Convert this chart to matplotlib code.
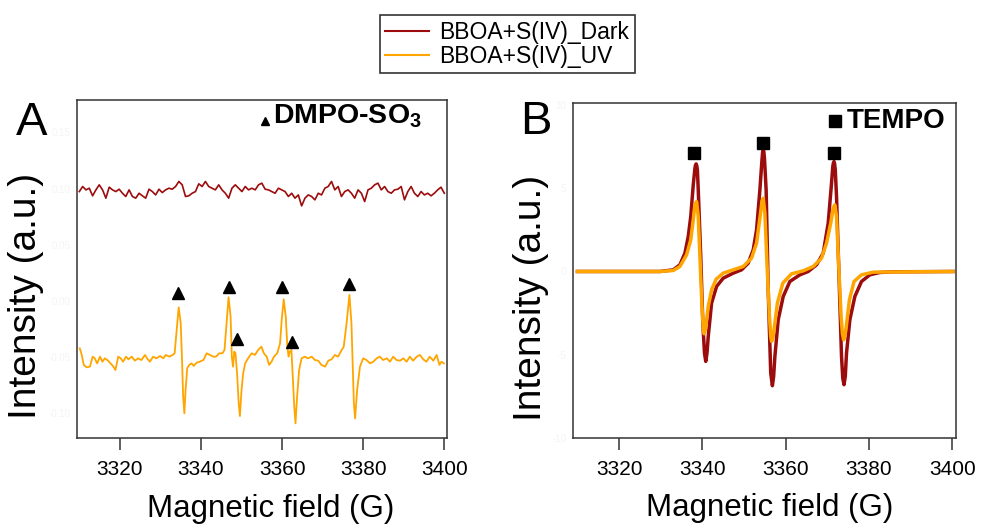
import numpy as np
import matplotlib
matplotlib.use('Agg')
import matplotlib.pyplot as plt
from matplotlib.lines import Line2D

plt.rcParams['font.family'] = ['Liberation Sans', 'DejaVu Sans']
plt.rcParams['mathtext.fontset'] = 'custom'
plt.rcParams['mathtext.rm'] = 'Liberation Sans'
plt.rcParams['mathtext.bf'] = 'Liberation Sans:bold'

DARK = '#9c0c0c'
UV = '#ffa500'
labels = ['BBOA+S(IV)_Dark', 'BBOA+S(IV)_UV']
xticks = [3320, 3340, 3360, 3380, 3400]

# ---- A: DMPO spin trap (dark trace offset +0.1, UV trace offset -0.05)
dark_a = [0.0973, 0.1018, 0.0988, 0.1003, 0.0935, 0.0988, 0.1033, 0.0988, 0.0914, 0.1012,
          0.0988, 0.0973, 0.0994, 0.0958, 0.0929, 0.0988, 0.0929, 0.0914, 0.0958, 0.0935,
          0.0914, 0.0994, 0.0973, 0.0943, 0.0994, 0.0964, 0.0988, 0.1003, 0.0994, 0.1018,
          0.1063, 0.1033, 0.0929, 0.0935, 0.0958, 0.0973, 0.1042, 0.1018, 0.1063, 0.1018,
          0.1003, 0.0988, 0.1033, 0.0988, 0.0958, 0.0914, 0.1003, 0.1033, 0.1003, 0.0973,
          0.1018, 0.0988, 0.1003, 0.0988, 0.1033, 0.1048, 0.0994, 0.0988, 0.0973, 0.0958,
          0.1003, 0.0988, 0.0973, 0.0929, 0.0958, 0.0914, 0.0943, 0.0845, 0.0914, 0.0943,
          0.0929, 0.0899, 0.0958, 0.0943, 0.1003, 0.1018, 0.1063, 0.0988, 0.1018, 0.0929,
          0.0973, 0.0988, 0.0958, 0.0914, 0.0988, 0.0958, 0.0884, 0.0988, 0.1003, 0.1033,
          0.1048, 0.0988, 0.1018, 0.0973, 0.0958, 0.0988, 0.0994, 0.1018, 0.0899, 0.0973,
          0.1018, 0.0958, 0.0929, 0.0973, 0.0943, 0.0958, 0.0935, 0.0958, 0.0988, 0.1012,
          0.0958]
field_dark_a = np.linspace(3310, 3400, len(dark_a))

field_uv_a = [3310.1, 3310.5, 3311.1, 3311.8, 3312.6, 3313.3, 3313.8, 3314.4, 3315.1, 3315.7,
              3316.3, 3317.1, 3317.7, 3318.4, 3318.9, 3319.6, 3320.2, 3320.8, 3321.5, 3322.1,
              3322.9, 3323.7, 3324.5, 3325.3, 3326.2, 3326.7, 3327.4, 3328.2, 3329.0, 3329.9,
              3330.7, 3331.3, 3332.2, 3333.0, 3333.5, 3334.0, 3334.5, 3335.0, 3335.3, 3335.6,
              3335.9, 3336.2, 3336.6, 3337.1, 3337.7, 3338.2, 3338.9, 3339.7, 3340.6, 3341.4,
              3342.2, 3343.0, 3343.7, 3344.5, 3345.3, 3345.8, 3346.3, 3346.8, 3347.3, 3347.6,
              3347.9, 3348.2, 3348.5, 3348.9, 3349.3, 3349.6, 3350.0, 3350.4, 3350.9, 3351.6,
              3352.5, 3353.3, 3354.1, 3354.9, 3355.5, 3356.2, 3356.8, 3357.4, 3358.0, 3358.8,
              3359.5, 3359.9, 3360.4, 3360.9, 3361.3, 3361.6, 3361.9, 3362.3, 3362.6, 3363.0,
              3363.3, 3363.7, 3364.2, 3364.8, 3365.6, 3366.4, 3367.3, 3368.1, 3368.9, 3369.7,
              3370.6, 3371.4, 3372.2, 3373.0, 3373.8, 3374.7, 3375.2, 3375.9, 3376.6, 3377.1,
              3377.4, 3377.7, 3378.0, 3378.5, 3379.2, 3380.0, 3380.8, 3381.7, 3382.5, 3383.3,
              3384.1, 3384.9, 3385.8, 3386.6, 3387.4, 3388.2, 3389.1, 3389.9, 3390.7, 3391.5,
              3392.3, 3393.2, 3394.0, 3394.8, 3395.6, 3396.4, 3397.3, 3398.1, 3398.8, 3399.3,
              3399.9]
uv_a = [-0.0426, -0.0470, -0.0574, -0.0595, -0.0589, -0.0500, -0.0515, -0.0560, -0.0500, -0.0545,
        -0.0515, -0.0536, -0.0560, -0.0589, -0.0619, -0.0500, -0.0515, -0.0545, -0.0500, -0.0524,
        -0.0500, -0.0536, -0.0515, -0.0530, -0.0485, -0.0515, -0.0545, -0.0500, -0.0515, -0.0494,
        -0.0515, -0.0485, -0.0500, -0.0485, -0.0470, -0.0262, -0.0060, -0.0202, -0.0500, -0.0857,
        -0.1006, -0.0798, -0.0604, -0.0574, -0.0560, -0.0583, -0.0554, -0.0545, -0.0530, -0.0470,
        -0.0485, -0.0500, -0.0500, -0.0470, -0.0470, -0.0440, -0.0202, 0.0030, -0.0143, -0.0500,
        -0.0589, -0.0455, -0.0470, -0.0649, -0.0917, -0.1030, -0.0798, -0.0649, -0.0560, -0.0515,
        -0.0470, -0.0485, -0.0440, -0.0411, -0.0470, -0.0500, -0.0574, -0.0545, -0.0500, -0.0470,
        -0.0381, -0.0173, 0.0012, -0.0143, -0.0411, -0.0500, -0.0455, -0.0440, -0.0649, -0.0946,
        -0.1095, -0.0857, -0.0619, -0.0515, -0.0500, -0.0515, -0.0500, -0.0530, -0.0536, -0.0574,
        -0.0589, -0.0536, -0.0524, -0.0485, -0.0500, -0.0440, -0.0411, -0.0202, 0.0051, -0.0202,
        -0.0560, -0.0917, -0.1051, -0.0798, -0.0589, -0.0515, -0.0530, -0.0560, -0.0545, -0.0515,
        -0.0500, -0.0530, -0.0515, -0.0545, -0.0500, -0.0530, -0.0536, -0.0515, -0.0545, -0.0500,
        -0.0536, -0.0500, -0.0485, -0.0524, -0.0545, -0.0500, -0.0536, -0.0485, -0.0574, -0.0545,
        -0.0560]

# DMPO-SO3 adduct lines
tri_field = [3334.4, 3346.9, 3348.8, 3360.0, 3362.4, 3376.5]
tri_int = [0.0065, 0.0125, -0.0345, 0.0119, -0.0366, 0.0146]

# ---- B: TEMPO triplet
field_dark_b = [3310.0, 3320.0, 3329.8, 3333.0, 3334.6, 3335.8, 3336.6, 3337.2, 3337.8, 3338.2,
                3338.35, 3338.5, 3338.65, 3338.8, 3339.0, 3339.6, 3340.1, 3340.5, 3340.8, 3341.1,
                3341.4, 3342.2, 3343.4, 3345.0, 3347.4, 3349.4, 3351.0, 3352.2, 3353.0, 3353.8,
                3354.3, 3354.45, 3354.6, 3354.75, 3354.9, 3355.3, 3355.8, 3356.4, 3356.8, 3357.1,
                3357.4, 3358.2, 3359.4, 3361.0, 3363.4, 3365.4, 3367.4, 3369.0, 3370.2, 3371.0,
                3371.3, 3371.45, 3371.6, 3371.75, 3371.9, 3372.2, 3372.9, 3373.4, 3373.7, 3374.0,
                3374.3, 3374.6, 3375.4, 3376.6, 3378.2, 3380.2, 3382.6, 3385.8, 3400.2]
dark_b = [0.00, 0.00, 0.00, 0.10, 0.40, 1.10, 2.10, 3.30, 5.20, 6.20,
          6.40, 6.46, 6.35, 6.10, 4.90, 0.90, -3.10, -4.90, -5.40, -4.90,
          -3.90, -1.90, -0.90, -0.40, -0.10, 0.10, 0.50, 1.30, 2.50, 4.90,
          6.70, 7.15, 7.30, 7.20, 6.80, 4.90, -1.10, -6.10, -6.86, -6.30,
          -5.10, -2.90, -1.50, -0.60, -0.20, 0.00, 0.40, 1.10, 2.90, 5.30,
          6.30, 6.52, 6.60, 6.45, 6.10, 4.50, -1.10, -5.10, -6.40, -6.80,
          -6.30, -4.90, -2.90, -1.50, -0.60, -0.20, -0.06, -0.02, 0.00]

field_uv_b = [3310.0, 3320.0, 3329.8, 3333.0, 3334.6, 3336.2, 3337.2, 3337.8, 3338.2, 3338.6,
              3339.0, 3339.4, 3339.9, 3340.2, 3340.4, 3340.7, 3340.9, 3341.4, 3342.2, 3343.3,
              3345.0, 3347.4, 3349.8, 3351.8, 3353.0, 3353.8, 3354.3, 3354.6, 3355.0, 3355.5,
              3356.1, 3356.4, 3356.6, 3356.9, 3357.2, 3358.0, 3359.3, 3361.4, 3364.2, 3366.6,
              3368.6, 3369.8, 3370.8, 3371.4, 3371.8, 3372.2, 3372.7, 3373.3, 3373.6, 3373.9,
              3374.2, 3374.5, 3375.3, 3376.4, 3378.2, 3381.0, 3400.2]
uv_b = [0.00, 0.00, 0.00, 0.06, 0.30, 1.00, 1.90, 3.10, 4.00, 4.20,
        3.30, 0.90, -2.10, -3.40, -3.74, -3.50, -3.10, -2.10, -1.10, -0.46,
        -0.10, 0.10, 0.30, 0.80, 1.70, 3.20, 4.20, 4.40, 3.50, 0.50,
        -2.70, -3.90, -4.20, -4.00, -3.50, -1.90, -0.70, -0.14, 0.04, 0.30,
        0.80, 1.70, 2.90, 3.80, 4.00, 3.30, 0.50, -2.70, -3.70, -4.10,
        -3.90, -3.40, -1.70, -0.60, -0.20, -0.04, 0.00]

sq_field = [3338.1, 3354.6, 3371.5]
sq_int = [7.13, 7.69, 7.09]

ytick_a = [-0.10, -0.05, 0.00, 0.05, 0.10, 0.15]
ytick_b = [-10, -5, 0, 5, 10]


def style(ax, xlim, ylim, yticks, ylabels, xlab_x, ylab_x, ylab_y):
    ax.set_xlim(*xlim)
    ax.set_ylim(*ylim)
    ax.set_xticks(xticks)
    ax.tick_params(axis='x', direction='out', length=8.5, width=1.1,
                   labelsize=15, pad=7, color='#333333')
    ax.set_yticks(yticks)
    # y values are arbitrary, labels kept almost white
    ax.set_yticklabels(ylabels, color='#f4f4f4', fontsize=7)
    ax.tick_params(axis='y', length=0, pad=5)
    for s in ax.spines.values():
        s.set_color('#333333')
        s.set_linewidth(1.1)
    ax.set_xlabel('Magnetic field (G)', fontsize=22.5)
    ax.set_ylabel('Intensity (a.u.)', fontsize=28)
    ax.xaxis.set_label_coords(xlab_x, -0.165)
    ax.yaxis.set_label_coords(ylab_x, ylab_y)


fig = plt.figure(figsize=(9.81, 5.31), dpi=100)
ax_a = fig.add_axes([0.0788, 0.1751, 0.3766, 0.6366])
ax_b = fig.add_axes([0.5844, 0.1751, 0.3906, 0.6304])

# A
ax_a.plot(field_dark_a, dark_a, color=DARK, lw=1.2)
ax_a.plot(field_uv_a, uv_a, color=UV, lw=1.3)
ax_a.plot(tri_field, tri_int, ls='none', marker='^', ms=8, color='black')
ax_a.plot(0.508, 0.9385, marker='^', ms=6, color='black', transform=ax_a.transAxes)
ax_a.text(0.5285, 0.931, r'DMPO-SO$_\mathbf{3}$', transform=ax_a.transAxes,
          fontsize=20.5, fontweight='bold', va='baseline', ha='left')
style(ax_a, (3309.5, 3400.6), (-0.1226, 0.179), ytick_a,
      ['%.2f' % v for v in ytick_a], 0.524, -0.09, 0.42)

# B
ax_b.plot(field_dark_b, dark_b, color=DARK, lw=2.5)
ax_b.plot(field_uv_b, uv_b, color=UV, lw=2.5)
ax_b.plot(sq_field, sq_int, ls='none', marker='s', ms=9, color='black')
ax_b.plot(0.683, 0.948, marker='s', ms=9, color='black', transform=ax_b.transAxes)
ax_b.text(0.7135, 0.925, 'TEMPO', transform=ax_b.transAxes,
          fontsize=20, fontweight='bold', va='baseline', ha='left')
style(ax_b, (3309, 3401), (-10, 10.1), ytick_b,
      [str(v) for v in ytick_b], 0.5125, -0.064, 0.418)

fig.text(32 / 981, 1 - 123 / 531, 'A', fontsize=34, ha='center', va='center')
fig.text(536 / 981, 1 - 122 / 531, 'B', fontsize=34, ha='center', va='center')

handles = [Line2D([], [], color=DARK, lw=1.5), Line2D([], [], color=UV, lw=1.5)]
leg = fig.legend(handles, labels, loc='upper center', bbox_to_anchor=(0.517, 0.972),
                 fontsize=16.5, frameon=True, fancybox=False, edgecolor='#333333',
                 framealpha=1, handlelength=1.9, handletextpad=0.45, labelspacing=0.05,
                 borderpad=0.25, borderaxespad=0)
leg.get_frame().set_linewidth(1.2)

fig.savefig('out.png', dpi=100)
